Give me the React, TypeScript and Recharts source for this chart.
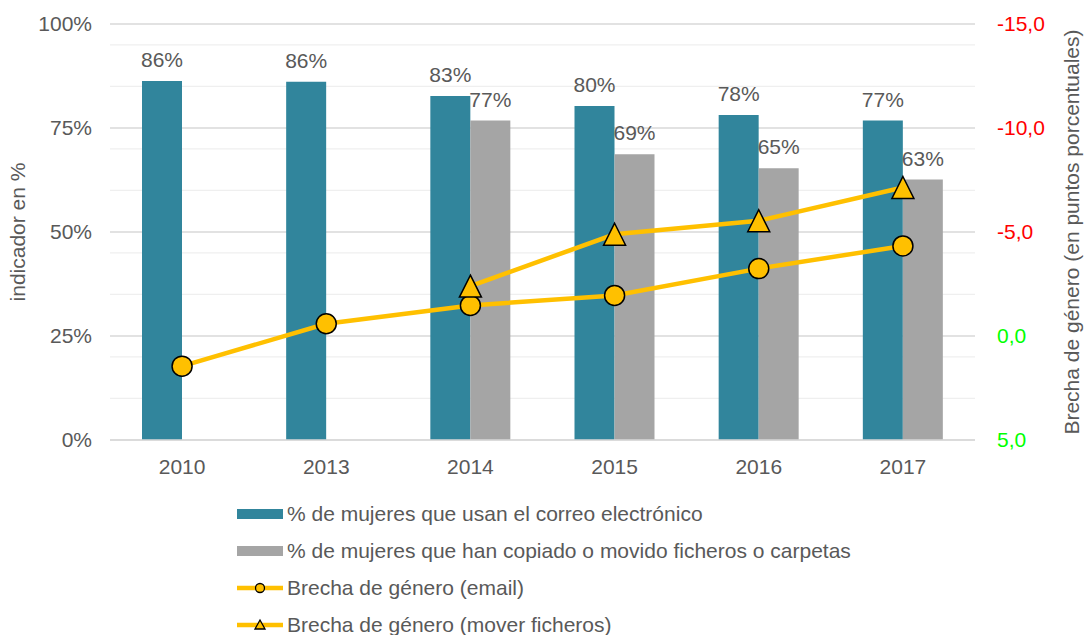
import React from "react";
import {
  ComposedChart,
  Bar,
  Line,
  XAxis,
  YAxis,
  CartesianGrid,
  LabelList,
} from "recharts";

const years = ["2010", "2013", "2014", "2015", "2016", "2017"];
const emailUse = [86.3, 86.1, 82.7, 80.3, 78.1, 76.8];
const filesMoved = [null, null, 76.8, 68.7, 65.3, 62.6];
const gapEmail = [1.45, -0.59, -1.47, -1.95, -3.24, -4.33];
const gapFiles = [null, null, -2.4, -4.89, -5.54, -7.14];

const leftTicks = [0, 25, 50, 75, 100];
const minorGrid = [5, 10, 15, 20, 30, 35, 40, 45, 55, 60, 65, 70, 80, 85, 90, 95];
const rightTicks = [-15, -10, -5, 0, 5];

const seriesNames = [
  "% de mujeres que usan el correo electrónico",
  "% de mujeres que han copiado o movido ficheros o carpetas",
  "Brecha de género (email)",
  "Brecha de género (mover ficheros)",
];

const data = years.map((year, i) => ({
  year,
  email: emailUse[i],
  files: filesMoved[i],
  gapEmail: gapEmail[i],
  gapFiles: gapFiles[i],
}));

const FONT = "'Liberation Sans', Arial, sans-serif";
const TEXT = "#595959";
const TEAL = "#31859C";
const GRAY = "#A5A5A5";
const GOLD = "#FFC000";

const pct = (v: any) => (v == null ? "" : `${Math.round(Number(v))}%`);

function CircleDot(props: any) {
  const { cx, cy, value } = props;
  if (value == null || cx == null || cy == null) return null;
  return <circle cx={cx} cy={cy} r={10} fill={GOLD} stroke="#000" strokeWidth={1.5} />;
}

function TriangleDot(props: any) {
  const { cx, cy, value } = props;
  if (value == null || cx == null || cy == null) return null;
  const w = 11;
  const h = 11;
  return (
    <polygon
      points={`${cx},${cy - h} ${cx + w},${cy + h} ${cx - w},${cy + h}`}
      fill={GOLD}
      stroke="#000"
      strokeWidth={1.5}
      strokeLinejoin="miter"
    />
  );
}

function RightTick(props: any) {
  const { x, y, payload } = props;
  const v = Number(payload.value);
  return (
    <text x={x} y={y} dy="0.355em" textAnchor="start" fill={v < 0 ? "#FF0000" : "#00FF00"} fontSize={21} fontFamily={FONT}>
      {v.toFixed(1).replace(".", ",")}
    </text>
  );
}

function AxisTitle(props: any) {
  const { viewBox, value, dx } = props;
  const cx = viewBox.x + viewBox.width / 2 + dx;
  const cy = viewBox.y + viewBox.height / 2;
  return (
    <text
      x={cx}
      y={cy}
      dy="0.355em"
      textAnchor="middle"
      transform={`rotate(-90 ${cx} ${cy})`}
      fill={TEXT}
      fontSize={21}
      fontFamily={FONT}
    >
      {value}
    </text>
  );
}

function LegendIcon({ kind }: { kind: number }) {
  return (
    <svg width={48} height={14} style={{ marginRight: 3, flexShrink: 0 }}>
      {kind === 0 && <rect x={1} y={2} width={46} height={10} fill={TEAL} />}
      {kind === 1 && <rect x={1} y={2} width={46} height={10} fill={GRAY} />}
      {kind >= 2 && <line x1={1} y1={7} x2={47} y2={7} stroke={GOLD} strokeWidth={4.5} />}
      {kind === 2 && <circle cx={24} cy={7} r={4.5} fill={GOLD} stroke="#000" strokeWidth={1.3} />}
      {kind === 3 && <polygon points="24,2 29,11 19,11" fill={GOLD} stroke="#000" strokeWidth={1.3} />}
    </svg>
  );
}

export default function App() {
  return (
    <div style={{ position: "absolute", left: 0, top: 0, width: 1084, height: 635, background: "#fff", fontFamily: FONT }}>
      <ComposedChart
        width={1084}
        height={480}
        data={data}
        margin={{ top: 24, right: 0, bottom: 0, left: 0 }}
        barGap={0}
        barSize={40}
      >
        <CartesianGrid yAxisId="left" vertical={false} horizontalValues={minorGrid} stroke="#EFEFEF" strokeWidth={1.3} />
        <CartesianGrid yAxisId="left" vertical={false} horizontalValues={leftTicks} stroke="#D9D9D9" strokeWidth={1.3} />
        <XAxis
          dataKey="year"
          tickLine={false}
          axisLine={{ stroke: "#D9D9D9", strokeWidth: 1.3 }}
          tickSize={0}
          tickMargin={19}
          height={40}
          tick={{ fill: TEXT, fontSize: 21, fontFamily: FONT }}
        />
        <YAxis
          yAxisId="left"
          domain={[0, 100]}
          ticks={leftTicks}
          width={110}
          axisLine={false}
          tickLine={false}
          tickSize={0}
          tickMargin={18}
          tickFormatter={(v: number) => `${v}%`}
          tick={{ fill: TEXT, fontSize: 21, fontFamily: FONT }}
          label={{ value: "indicador en %", content: (p: any) => <AxisTitle {...p} value="indicador en %" dx={-37} /> }}
        />
        <YAxis
          yAxisId="right"
          orientation="right"
          domain={[-15, 5]}
          ticks={rightTicks}
          reversed
          width={109}
          axisLine={false}
          tickLine={false}
          tickSize={0}
          tickMargin={22}
          tick={<RightTick />}
          label={{
            value: "Brecha de género (en puntos porcentuales)",
            content: (p: any) => <AxisTitle {...p} value="Brecha de género (en puntos porcentuales)" dx={42} />,
          }}
        />
        <Bar yAxisId="left" dataKey="email" name={seriesNames[0]} fill={TEAL} isAnimationActive={false}>
          <LabelList dataKey="email" position="top" offset={14} formatter={pct} fill={TEXT} fontSize={21} fontFamily={FONT} />
        </Bar>
        <Bar yAxisId="left" dataKey="files" name={seriesNames[1]} fill={GRAY} isAnimationActive={false}>
          <LabelList dataKey="files" position="top" offset={14} formatter={pct} fill={TEXT} fontSize={21} fontFamily={FONT} />
        </Bar>
        <Line
          yAxisId="right"
          dataKey="gapEmail"
          name={seriesNames[2]}
          stroke={GOLD}
          strokeWidth={4.5}
          dot={<CircleDot />}
          activeDot={false}
          isAnimationActive={false}
        />
        <Line
          yAxisId="right"
          dataKey="gapFiles"
          name={seriesNames[3]}
          stroke={GOLD}
          strokeWidth={4.5}
          dot={<TriangleDot />}
          activeDot={false}
          isAnimationActive={false}
        />
      </ComposedChart>
      <div style={{ position: "absolute", left: 236, top: 495, color: TEXT, fontSize: 21 }}>
        {seriesNames.map((name, i) => (
          <div key={name} style={{ display: "flex", alignItems: "center", height: 37, whiteSpace: "nowrap" }}>
            <LegendIcon kind={i} />
            <span>{name}</span>
          </div>
        ))}
      </div>
    </div>
  );
}
